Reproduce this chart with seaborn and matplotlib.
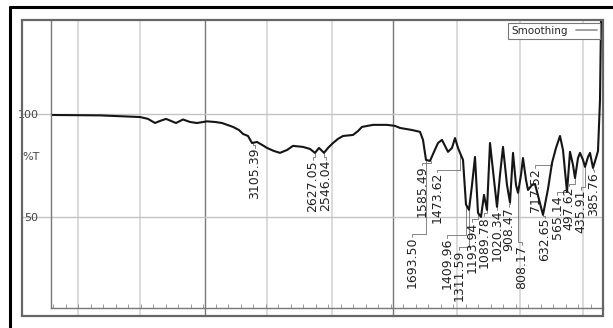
import numpy as np
import pandas as pd
import matplotlib
matplotlib.use("Agg")
import matplotlib.pyplot as plt
import seaborn as sns
from matplotlib.lines import Line2D
from matplotlib.patches import Rectangle
from matplotlib.ticker import FixedLocator, NullFormatter

# %%
# spectrum: position along the x axis (axis runs 51..603) and %T
x_pos = [52, 100, 140, 148, 155, 160, 166, 171, 176, 183, 190, 197, 207, 215, 222,
         233, 239, 243, 248, 252, 257, 262, 267, 274, 280, 287, 293, 303, 310, 315,
         319, 324, 328, 333, 338, 343, 353, 358, 362, 373, 387, 395, 400, 412, 420,
         423, 426, 430, 434, 438, 442, 445, 448, 452, 455, 458, 460, 463, 466, 469,
         472, 475, 478, 481, 484, 487, 490, 494, 497, 500, 503, 507, 510, 513, 516,
         518, 521, 523, 526, 528, 532, 535, 543, 548, 552, 556, 560, 563, 567, 570,
         573, 575, 578, 580, 583, 585, 588, 590, 593, 596, 598, 600, 601]
trans = [99.5, 99.3, 98.5, 97.6, 95.6, 96.6, 97.6, 96.6, 95.6, 97.3, 96.1, 95.6, 96.4, 96.1, 95.6,
         93.7, 92.2, 90.3, 89.3, 85.9, 86.4, 85.0, 83.5, 82.0, 81.1, 82.5, 84.5, 84.0, 83.0, 81.1,
         83.5, 81.1, 83.5, 85.9, 87.9, 89.3, 89.8, 91.7, 93.7, 94.7, 94.7, 94.2, 93.2, 92.2, 91.3,
         87.4, 77.7, 77.2, 81.6, 85.9, 87.4, 84.5, 81.6, 83.5, 88.3, 83.5, 81.1, 77.7, 56.0, 53.4,
         65.5, 79.1, 52.0, 50.0, 60.7, 53.4, 85.9, 68.0, 54.9, 70.4, 84.0, 65.5, 57.0, 81.1, 65.5,
         61.7, 70.4, 78.6, 68.0, 63.1, 65.5, 66.0, 51.0, 63.6, 76.2, 83.5, 89.3, 82.5, 62.1, 81.6,
         75.2, 68.9, 78.6, 81.1, 77.7, 74.3, 79.1, 81.1, 73.8, 78.6, 82.0, 106.8, 145.0]

# peak labels
peak_names = ['3105.39', '2627.05', '2546.04', '1693.50', '1585.49', '1473.62', '1409.96',
              '1311.59', '1193.94', '1089.78', '1020.34', '908.47', '808.17', '717.52',
              '632.65', '565.14', '497.62', '435.91', '385.76']
peak_x = [253, 315, 324, 426, 431, 460, 466, 469, 478, 487, 497, 510, 518, 552, 543, 567, 575, 585, 593]
peak_t = [85.9, 81.1, 81.1, 77.7, 77.2, 81.1, 56.0, 53.4, 52.0, 53.4, 54.9, 57.0, 61.7, 76.2,
          51.0, 62.1, 68.9, 74.3, 73.8]
label_x = [255, 313, 326, 412, 422, 437, 447, 459, 472, 484, 497, 509, 522, 535, 545, 557, 569, 581, 594]
label_t = [83.5, 77.7, 77.7, 40.3, 75.2, 71.8, 39.8, 34.0, 47.6, 50.5, 53.4, 54.9, 36.4, 73.8,
           49.5, 60.7, 65.0, 63.1, 71.8]

grid_x = [78, 140, 205, 267, 332, 393, 457, 520, 583]
dark_grid = [205, 393]

df = pd.DataFrame({'x': x_pos, 'T': trans})

# %%
sns.set_style('white')
plt.rcParams['font.family'] = ['DejaVu Sans']

W, H = 613, 328
fig = plt.figure(figsize=(W / 100, H / 100), dpi=100)
ax = fig.add_axes([51 / W, 1 - 308 / H, (603 - 51) / W, (308 - 20) / H])

# grid
for gx in grid_x:
    dark = gx in dark_grid
    ax.axvline(gx, ymin=-8 / 288, ymax=1, clip_on=False,
               color='#777777' if dark else '#d4d4d4', lw=1.0 if dark else 1.2, zorder=0)
for gy in [100, 50]:
    ax.axhline(gy, xmin=-29 / 552, xmax=1, clip_on=False, color='#c4c4c4', lw=1.0, zorder=0)

sns.lineplot(data=df, x='x', y='T', color='#151515', lw=1.5, ax=ax,
             sort=False, estimator=None, legend=False)

# peak labels with leader lines
for name, px, pt, lx, lt in zip(peak_names, peak_x, peak_t, label_x, label_t):
    elbow = lt + 1.2
    ax.plot([px, px, lx, lx], [pt, elbow, elbow, lt], color='#666666', lw=0.55, zorder=1)
    ax.text(lx, lt, name, rotation=90, ha='center', va='top', fontsize=9, color='#222222')

ax.set_xlim(51, 603)
ax.set_ylim(5.8, 145.6)
ax.set_xlabel('')
ax.set_ylabel('')

ax.set_yticks([50, 100])
ax.set_yticklabels(['50', '100'])
ax.yaxis.set_minor_locator(FixedLocator([10, 20, 30, 40, 60, 70, 80, 90, 110, 120, 130, 140]))
ax.tick_params(axis='y', which='both', direction='out', length=3, color='#777777',
               labelsize=8, labelcolor='#444444', pad=6)
ax.set_xticks([])
ax.xaxis.set_minor_locator(FixedLocator(np.arange(53, 603, 12.5)))
ax.xaxis.set_minor_formatter(NullFormatter())
ax.tick_params(axis='x', which='minor', direction='in', length=3, color='#888888', bottom=True)

for s in ['top', 'right']:
    ax.spines[s].set_visible(False)
for s in ['left', 'bottom']:
    ax.spines[s].set_color('#777777')
    ax.spines[s].set_linewidth(1.0)

ax.text(-29 / 552, (157 - 20) / -288 + 1, '%T', transform=ax.transAxes,
        ha='left', va='center', fontsize=8, color='#444444')

handle = Line2D([], [], color='#9a9a9a', lw=1.3)
leg = ax.legend(handles=[handle], labels=['Smoothing'], loc='upper right', markerfirst=False,
                frameon=True, fancybox=False, edgecolor='#777777', framealpha=1,
                fontsize=7.5, handlelength=2.0, borderpad=0.3, borderaxespad=0.25)
leg.get_frame().set_linewidth(0.8)

# frames around the plot
fig.add_artist(Rectangle((22 / W, 1 - 316 / H), (603 - 22) / W, (316 - 20) / H,
                         transform=fig.transFigure, fill=False, edgecolor='#666666', lw=1.6))
fig.add_artist(Line2D([10 / W, 10 / W], [0, 1 - 7 / H], transform=fig.transFigure,
                      color='black', lw=2.2))
fig.add_artist(Line2D([10 / W, 1], [1 - 7 / H, 1 - 7 / H], transform=fig.transFigure,
                      color='black', lw=2.2))

fig.savefig('out.png', dpi=100, facecolor='white')
